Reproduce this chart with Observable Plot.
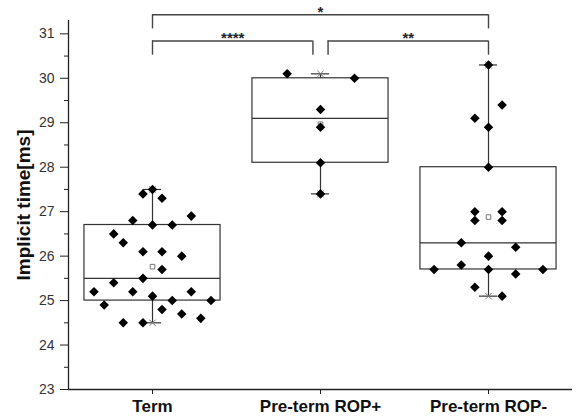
<!DOCTYPE html>
<html><head><meta charset="utf-8">
<script src="https://cdn.jsdelivr.net/npm/d3@7"></script>
<script src="https://cdn.jsdelivr.net/npm/@observablehq/plot@0.6"></script>
<style>
body{margin:0;background:#fff;}
#chart svg{display:block;font-family:"Liberation Sans",Arial,sans-serif;}
#chart svg g[aria-label="x-axis tick label"] text{font-weight:bold;}
</style></head><body><div id="chart"></div>
<script>
// Categories
const categories = ["Term", "Pre-term ROP+", "Pre-term ROP-"];

// Individual values (ms) and their horizontal spread (in box half-widths)
const termValues = [27.5, 27.4, 27.3, 26.9, 26.8, 26.7, 26.7, 26.5, 26.3, 26.1, 26.1, 26.0, 25.7, 25.5,
  25.4, 25.2, 25.2, 25.2, 25.1, 25.0, 25.0, 24.9, 24.8, 24.7, 24.6, 24.5, 24.5];
const termSpread = [0, -0.14, 0.14, 0.57, -0.29, 0, 0.29, -0.57, -0.43, -0.14, 0.14, 0.43, 0.14, -0.14,
  -0.57, -0.86, -0.29, 0.57, 0, 0.29, 0.86, -0.71, 0.14, 0.43, 0.71, -0.43, -0.14];

const ropPlusValues = [30.1, 30.0, 29.3, 28.9, 28.1, 27.4];
const ropPlusSpread = [-0.49, 0.5, 0, 0, 0, 0];

const ropMinusValues = [30.3, 29.4, 29.1, 28.9, 28.0, 27.0, 27.0, 26.8, 26.8, 26.3, 26.2, 26.0, 25.8,
  25.7, 25.7, 25.7, 25.6, 25.3, 25.1];
const ropMinusSpread = [0, 0.2, -0.2, 0, 0, -0.2, 0.2, -0.2, 0.2, -0.4, 0.4, 0, -0.4,
  -0.8, 0, 0.8, 0.4, -0.2, 0.2];

// Box statistics
const q1 = [25.0, 28.1, 25.7];
const medians = [25.5, 29.1, 26.3];
const q3 = [26.7, 30.0, 28.0];
const whiskerLow = [24.5, 27.4, 25.1];
const whiskerHigh = [27.5, 30.1, 30.3];

// Significance comparisons
const compFrom = [0, 0, 1];
const compTo = [2, 1, 2];
const compLabel = ["*", "****", "**"];
const compLevel = [1, 0, 0];

// Axis ticks
const yMajorTicks = [23, 24, 25, 26, 27, 28, 29, 30, 31];
const yMinorTicks = [23.5, 24.5, 25.5, 26.5, 27.5, 28.5, 29.5, 30.5];

const allValues = [termValues, ropPlusValues, ropMinusValues];
const allSpread = [termSpread, ropPlusSpread, ropMinusSpread];

const HW = 0.405;   // box half width (group units)
const CAP = 0.054;  // whisker cap half width
const points = [];
allValues.forEach((vals, g) => vals.forEach((v, i) => points.push({g, v, j: allSpread[g][i]})));
const boxes = categories.map((c, g) => ({
  g, q1: q1[g], med: medians[g], q3: q3[g], lo: whiskerLow[g], hi: whiskerHigh[g],
  mean: d3.mean(allValues[g])
}));

const baseLevel = 30.84, levelStep = 0.59, legDrop = 0.32, gap = 0.045;
const brackets = compFrom.map((f, i) => {
  const lvl = compLevel[i];
  const shared = (end) => compLevel.some((l, k) => k !== i && l === lvl && (compFrom[k] === end || compTo[k] === end));
  return {
    x1: f + (shared(f) ? gap : 0),
    x2: compTo[i] - (shared(compTo[i]) ? gap : 0),
    y: baseLevel + lvl * levelStep,
    label: compLabel[i]
  };
});
const legs = brackets.flatMap(b => [{x: b.x1, y1: b.y, y2: b.y - legDrop}, {x: b.x2, y1: b.y, y2: b.y - legDrop}]);

const ink = "#333";
const chart = Plot.plot({
  width: 576, height: 418,
  marginLeft: 68, marginRight: 4, marginTop: 20, marginBottom: 29,
  x: {domain: [-0.5, 2.5], axis: null},
  y: {domain: [23, 31.3], axis: null},
  style: {fontFamily: '"Liberation Sans", Arial, sans-serif', background: "#fff", color: "#222"},
  marks: [
    // boxes
    Plot.rect(boxes, {x1: d => d.g - HW, x2: d => d.g + HW, y1: "q1", y2: "q3", fill: "white", stroke: ink, strokeWidth: 1.2}),
    Plot.ruleY(boxes, {x1: d => d.g - HW, x2: d => d.g + HW, y: "med", stroke: ink, strokeWidth: 1.2}),
    Plot.ruleX(boxes, {x: "g", y1: "q3", y2: "hi", stroke: ink, strokeWidth: 1.2}),
    Plot.ruleX(boxes, {x: "g", y1: "lo", y2: "q1", stroke: ink, strokeWidth: 1.2}),
    Plot.ruleY(boxes, {x1: d => d.g - CAP, x2: d => d.g + CAP, y: "hi", stroke: ink, strokeWidth: 1.2}),
    Plot.ruleY(boxes, {x1: d => d.g - CAP, x2: d => d.g + CAP, y: "lo", stroke: ink, strokeWidth: 1.2}),
    Plot.dot(boxes, {x: "g", y: "lo", symbol: "times", r: 3, stroke: "#777", strokeWidth: 1}),
    Plot.dot(boxes, {x: "g", y: "hi", symbol: "times", r: 3, stroke: "#777", strokeWidth: 1}),
    Plot.dot(boxes, {x: "g", y: "mean", symbol: "square", r: 2.6, stroke: "#777", fill: "white", strokeWidth: 1}),
    // individual points
    Plot.dot(points, {x: d => d.g + d.j * HW, y: "v", symbol: "diamond2", r: 4.3, fill: "black"}),
    // significance brackets
    Plot.ruleY(brackets, {x1: "x1", x2: "x2", y: "y", stroke: "#444", strokeWidth: 1.4}),
    Plot.ruleX(legs, {x: "x", y1: "y1", y2: "y2", stroke: "#444", strokeWidth: 1.4}),
    Plot.text(brackets, {x: d => (d.x1 + d.x2) / 2, y: "y", text: "label", dy: -3, fontSize: 15, fontWeight: "bold", fill: "#222"}),
    // axes
    Plot.ruleX([-0.5], {y1: 23, y2: 31.3, stroke: "#222", strokeWidth: 1.3}),
    Plot.ruleY([23], {x1: -0.5, x2: 2.5, stroke: "#222", strokeWidth: 1.3}),
    Plot.axisY(yMajorTicks, {tickSize: 8, tickPadding: 6, fontSize: 14, stroke: "#222", fill: "#333", label: null}),
    Plot.axisY(yMinorTicks, {tickSize: 4, tickFormat: () => "", stroke: "#222", label: null}),
    Plot.axisX([0, 1, 2], {tickFormat: i => categories[i], tickSize: 5, tickPadding: 5, fontSize: 17, fontWeight: "bold", stroke: "#222", fill: "#111", label: null}),
    Plot.text(["Implicit time[ms]"], {frameAnchor: "left", textAnchor: "middle", rotate: -90, dx: -45, fontSize: 19, fontWeight: "bold", fill: "#111"})
  ]
});
document.getElementById("chart").appendChild(chart);
</script>
</body></html>
